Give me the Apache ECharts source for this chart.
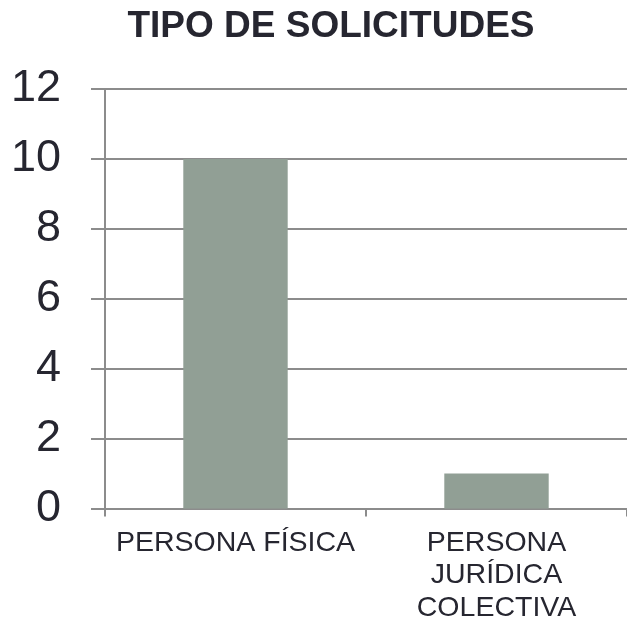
<!DOCTYPE html>
<html>
<head>
<meta charset="utf-8">
<script src="https://cdn.jsdelivr.net/npm/echarts@6/dist/echarts.min.js"></script>
<style>
  html, body { margin: 0; padding: 0; background: #fff; }
  #chart { width: 627px; height: 624px; }
</style>
</head>
<body>
<div id="chart"></div>
<script>
// datos del grafico
var categorias = ['PERSONA FÍSICA', 'PERSONA\nJURÍDICA\nCOLECTIVA'];
var valores = [10, 1];
var yTicks = [0, 2, 4, 6, 8, 10, 12];

var chart = echarts.init(document.getElementById('chart'));

chart.setOption({
  animation: false,
  title: {
    text: 'TIPO DE SOLICITUDES',
    left: 326,
    top: 3,
    textAlign: 'center',
    textStyle: {
      fontFamily: 'Liberation Sans',
      fontWeight: 'bold',
      fontSize: 37,
      color: '#262630'
    }
  },
  grid: {
    left: 105,
    right: -6,
    top: 89,
    bottom: 112,
    containLabel: false
  },
  xAxis: {
    type: 'category',
    data: categorias,
    axisLine: { lineStyle: { color: '#8c8c8c', width: 2 } },
    axisTick: { show: true, length: 8, lineStyle: { color: '#8c8c8c', width: 2 } },
    axisLabel: {
      fontFamily: 'Liberation Sans',
      fontSize: 28.5,
      lineHeight: 32.5,
      color: '#262630',
      margin: 18,
      interval: 0
    }
  },
  yAxis: {
    type: 'value',
    min: yTicks[0],
    max: yTicks[yTicks.length - 1],
    interval: 2,
    axisLine: { show: true, lineStyle: { color: '#8c8c8c', width: 2 } },
    axisTick: { show: true, length: 14, lineStyle: { color: '#8c8c8c', width: 2 } },
    splitLine: { lineStyle: { color: '#8c8c8c', width: 2 } },
    axisLabel: {
      fontFamily: 'Liberation Sans',
      fontSize: 45,
      color: '#262630',
      margin: 44
    }
  },
  series: [{
    type: 'bar',
    data: valores,
    barWidth: '40%',
    itemStyle: { color: '#919f95' }
  }]
});
</script>
</body>
</html>
